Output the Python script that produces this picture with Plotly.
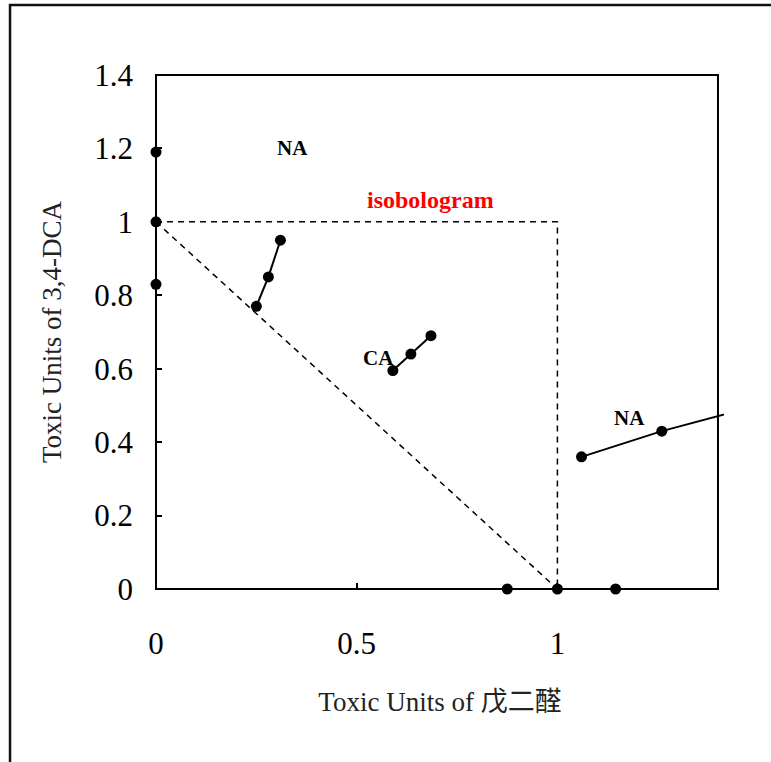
import plotly.graph_objects as go

# Toxic units of glutaraldehyde (x) and 3,4-DCA (y)
single_3_4_dca_y = [1.19, 1.00, 0.83]          # 3,4-DCA alone (x = 0)
single_glut_x = [0.875, 1.00, 1.145]            # glutaraldehyde alone (y = 0)

mix_a_x = [0.25, 0.28, 0.31]
mix_a_y = [0.77, 0.85, 0.95]

mix_ca_x = [0.59, 0.635, 0.685]
mix_ca_y = [0.595, 0.64, 0.69]

mix_na_x = [1.06, 1.26, 1.50]
mix_na_y = [0.36, 0.43, 0.50]

# isobologram reference lines
iso_box_x = [0, 1, 1]
iso_box_y = [1, 1, 0]
iso_diag_x = [0, 1]
iso_diag_y = [1, 0]

x_ticks = [0, 0.5, 1]
y_ticks = [0, 0.2, 0.4, 0.6, 0.8, 1.0, 1.2, 1.4]
x_max, y_max = 1.415, 1.4
frame_max = 1.4

SERIF = "Liberation Serif, Times New Roman, Noto Sans CJK TC, serif"
BLACK = "#000000"

fig = go.Figure()

dash_line = dict(color=BLACK, width=1.5, dash="6px,5px")
fig.add_trace(go.Scatter(x=iso_box_x, y=iso_box_y, mode="lines", line=dash_line,
                         hoverinfo="skip"))
fig.add_trace(go.Scatter(x=iso_diag_x, y=iso_diag_y, mode="lines", line=dash_line,
                         hoverinfo="skip"))

marker = dict(color=BLACK, size=11)
solid = dict(color=BLACK, width=2)

fig.add_trace(go.Scatter(x=mix_a_x, y=mix_a_y, mode="lines+markers",
                         line=solid, marker=marker))
fig.add_trace(go.Scatter(x=mix_ca_x, y=mix_ca_y, mode="lines+markers",
                         line=solid, marker=marker))
fig.add_trace(go.Scatter(x=mix_na_x, y=mix_na_y, mode="lines+markers",
                         line=solid, marker=marker))

fig.add_trace(go.Scatter(x=[0] * len(single_3_4_dca_y), y=single_3_4_dca_y,
                         mode="markers", marker=marker, cliponaxis=False))
fig.add_trace(go.Scatter(x=single_glut_x, y=[0] * len(single_glut_x),
                         mode="markers", marker=marker, cliponaxis=False))

labels = [
    dict(x=0.34, y=1.20, text="<b>NA</b>", color=BLACK, size=21),
    dict(x=0.685, y=1.06, text="<b>isobologram</b>", color="#ff0000", size=24),
    dict(x=0.555, y=0.63, text="<b>CA</b>", color=BLACK, size=21),
    dict(x=1.18, y=0.465, text="<b>NA</b>", color=BLACK, size=21),
]
for lb in labels:
    fig.add_annotation(x=lb["x"], y=lb["y"], text=lb["text"], showarrow=False,
                       font=dict(family=SERIF, size=lb["size"], color=lb["color"]))

# plot frame ending at 1.4 on both axes
fig.add_shape(type="rect", xref="paper", yref="paper",
              x0=0, x1=frame_max / x_max, y0=0, y1=frame_max / y_max,
              line=dict(color=BLACK, width=2), layer="above")
# outer page frame
fig.add_shape(type="rect", xref="paper", yref="paper",
              x0=-0.257, x1=1.2, y0=-0.5, y1=1.136,
              line=dict(color="#111111", width=2.5), layer="above")

fig.update_layout(
    width=771, height=762,
    margin=dict(l=156, r=47, t=75, b=173),
    paper_bgcolor="white", plot_bgcolor="white",
    showlegend=False,
    font=dict(family=SERIF, color=BLACK),
    xaxis=dict(
        range=[0, x_max], tickvals=x_ticks, ticktext=[f"{v:g}" for v in x_ticks],
        ticks="inside", ticklen=6, tickwidth=1.5, tickcolor=BLACK,
        showgrid=False, zeroline=False, showline=False,
        tickfont=dict(family=SERIF, size=31, color=BLACK),
        ticklabelstandoff=33,
        title=dict(text="Toxic Units of 戊二醛", standoff=32,
                   font=dict(family=SERIF, size=27, color="#222222")),
    ),
    yaxis=dict(
        range=[0, y_max], tickvals=y_ticks, ticktext=[f"{v:g}" for v in y_ticks],
        ticks="inside", ticklen=6, tickwidth=1.5, tickcolor=BLACK,
        showgrid=False, zeroline=False, showline=False,
        tickfont=dict(family=SERIF, size=31, color=BLACK),
        ticklabelstandoff=22,
        title=dict(text="Toxic Units of 3,4-DCA", standoff=24,
                   font=dict(family=SERIF, size=27, color="#222222")),
    ),
)

fig.write_html("out.html")
